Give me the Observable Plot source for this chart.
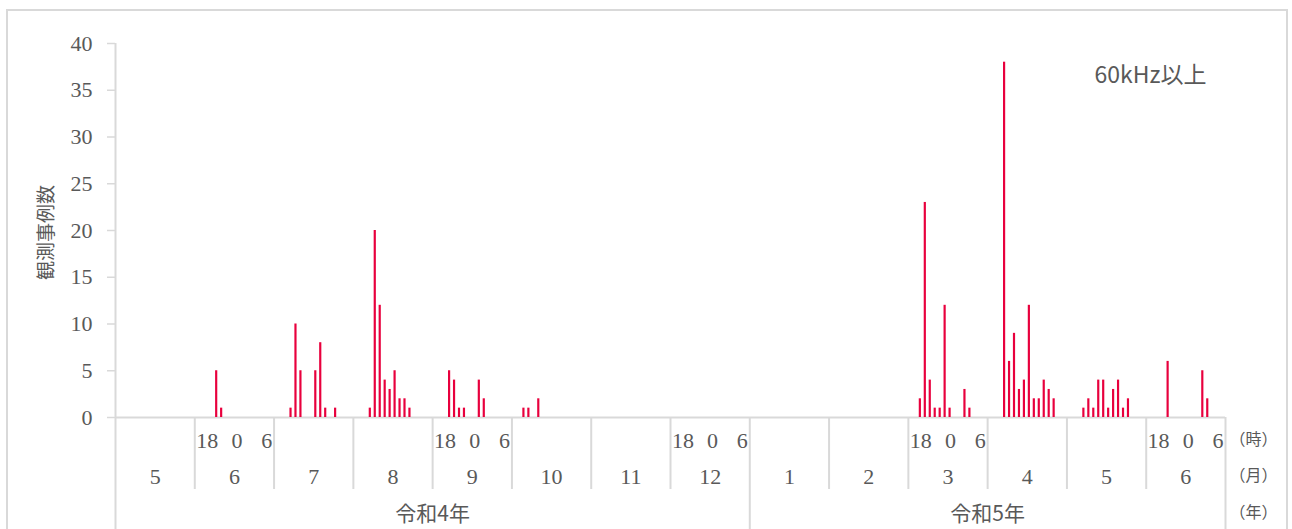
<!DOCTYPE html>
<html>
<head>
<meta charset="utf-8">
<script src="https://cdn.jsdelivr.net/npm/d3@7"></script>
<script src="https://cdn.jsdelivr.net/npm/@observablehq/plot@0.6"></script>
<style>
  html, body { margin: 0; padding: 0; background: #fff; }
  #chart { width: 1292px; height: 529px; overflow: hidden; }
</style>
</head>
<body>
<div id="chart"></div>
<script>
// ---- data ----
const months = ["5","6","7","8","9","10","11","12","1","2","3","4","5","6"];
const years = ["令和4年", "令和5年"];
const yearMonthCounts = [8, 6];
const hourSlots = [16,17,18,19,20,21,22,23,0,1,2,3,4,5,6,7];
const hourTicks = [18, 0, 6];
const hourTickMonths = [1, 4, 7, 10, 13];
const yTicks = [0, 5, 10, 15, 20, 25, 30, 35, 40];
const unitLabels = ["（時）", "（月）", "（年）"];
const seriesLabel = "60kHz以上";
const yLabel = "観測事例数";

// observations: month index, hour, count
const obsMonth = [1,1, 2,2,2,2,2,2,2, 3,3,3,3,3,3,3,3,3, 4,4,4,4,4,4, 5,5,5,
  10,10,10,10,10,10,10,10,10, 11,11,11,11,11,11,11,11,11,11,11,
  12,12,12,12,12,12,12,12,12,12, 13,13,13];
const obsHour = [20,21, 19,20,21,0,1,2,4, 19,20,21,22,23,0,1,2,3, 19,20,21,22,1,2, 18,19,21,
  18,19,20,21,22,23,0,3,4, 19,20,21,22,23,0,1,2,3,4,5,
  19,20,21,22,23,0,1,2,3,4, 20,3,4];
const obsCount = [5,1, 1,10,5,5,8,1,1, 1,20,12,4,3,5,2,2,1, 5,4,1,1,4,2, 1,1,2,
  2,23,4,1,1,12,1,3,1, 38,6,9,3,4,12,2,2,4,3,2,
  1,2,1,4,4,1,3,4,1,2, 6,5,2];

// ---- derived ----
const nSlot = hourSlots.length;
const nMonth = months.length;
const slotOf = (m, h) => m * nSlot + hourSlots.indexOf(h);
const bars = obsCount.map((c, i) => ({s: slotOf(obsMonth[i], obsHour[i]), c}));

const yearStarts = [];
{ let acc = 0; for (const n of yearMonthCounts) { yearStarts.push(acc); acc += n; } }
const yearBounds = [0, ...yearStarts.slice(1), nMonth];
const monthBounds = d3.range(1, nMonth).filter(m => !yearStarts.includes(m));

const hourLabelData = hourTickMonths.flatMap(m => hourTicks.map(h => ({x: slotOf(m, h) + 0.5, t: String(h)})));

const GRAY = "#d9d9d9", TXT = "#595959", RED = "#e8003d";
const FONT = "'Liberation Serif', 'Noto Sans CJK JP', serif";
const JP = "'Noto Sans CJK JP', sans-serif";
const MONTH_BOTTOM = -7.7, FULL_BOTTOM = -12.5;
const ROW_DY = [23, 59, 96];

const chart = Plot.plot({
  width: 1292, height: 529,
  marginLeft: 115, marginRight: 67, marginTop: 43, marginBottom: 112,
  x: {domain: [0, nSlot * nMonth], axis: null},
  y: {domain: [0, 40], axis: null},
  style: {fontFamily: FONT, background: "white", color: TXT, overflow: "visible"},
  marks: [
    Plot.axisY({ticks: yTicks, anchor: "left", tickSize: 8, tickPadding: 15, stroke: GRAY, strokeWidth: 1.5,
      fill: TXT, fontSize: 22, label: null, fontFamily: FONT}),
    Plot.ruleY([0], {stroke: GRAY, strokeWidth: 2}),
    Plot.ruleX([0], {y1: FULL_BOTTOM, y2: 40, stroke: GRAY, strokeWidth: 2}),
    Plot.ruleX(monthBounds, {x: m => m * nSlot, y1: 0, y2: MONTH_BOTTOM, stroke: GRAY, strokeWidth: 2}),
    Plot.ruleX(yearBounds.slice(1), {x: m => m * nSlot, y1: 0, y2: FULL_BOTTOM, stroke: GRAY, strokeWidth: 2}),
    Plot.rect(bars, {x1: d => d.s + 0.2, x2: d => d.s + 0.64, y1: 0, y2: d => d.c, fill: RED}),
    Plot.text(hourLabelData, {x: "x", y: () => 0, text: "t", dy: ROW_DY[0], lineAnchor: "middle", fontSize: 22, fill: TXT}),
    Plot.text(months, {x: (d, i) => i * nSlot + nSlot / 2, y: () => 0, text: d => d, dy: ROW_DY[1], lineAnchor: "middle", fontSize: 22, fill: TXT}),
    Plot.text(years, {x: (d, i) => (yearStarts[i] + yearMonthCounts[i] / 2) * nSlot, y: () => 0, text: d => d, dy: ROW_DY[2] + 1, lineAnchor: "middle", fontSize: 21, fill: TXT, fontFamily: JP}),
    ...unitLabels.map((u, k) => Plot.text([u], {frameAnchor: "bottom-right", text: d => d, dx: 28, dy: ROW_DY[k] - 1, textAnchor: "middle", lineAnchor: "middle", fontSize: 16, fill: TXT, fontFamily: JP})),
    Plot.text([seriesLabel], {frameAnchor: "top-right", text: d => d, dx: -19, dy: 32, textAnchor: "end", lineAnchor: "middle", fontSize: 23, fill: TXT, fontFamily: JP}),
    Plot.text([yLabel], {frameAnchor: "left", text: d => d, rotate: -90, dx: -69, dy: 2, textAnchor: "middle", lineAnchor: "middle", fontSize: 19, fill: TXT, fontFamily: JP})
  ]
});

// chart-area border
d3.select(chart).append("rect")
  .attr("x", 7).attr("y", 10).attr("width", 1280).attr("height", 540)
  .attr("fill", "none").attr("stroke", GRAY).attr("stroke-width", 2);

document.getElementById("chart").append(chart);
</script>
</body>
</html>
